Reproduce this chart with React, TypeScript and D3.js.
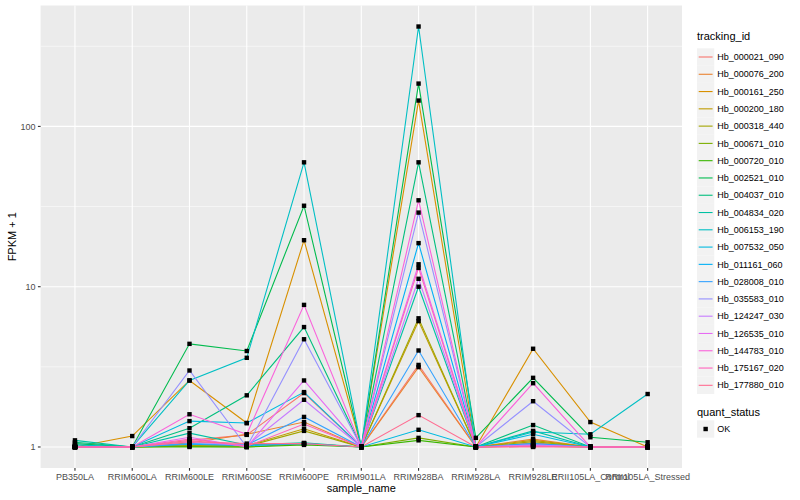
import * as d3 from "d3";

// sample names along the x axis
const samples = [
  "PB350LA",
  "RRIM600LA",
  "RRIM600LE",
  "RRIM600SE",
  "RRIM600PE",
  "RRIM901LA",
  "RRIM928BA",
  "RRIM928LA",
  "RRIM928LE",
  "RRII105LA_Control",
  "RRII105LA_Stressed",
];

// FPKM + 1 per gene, one value per sample
const hb000021_090 = [1, 1, 1.1, 1.19, 2.17, 1, 3.25, 1, 1.06, 1, 1];
const hb000076_200 = [1, 1, 1.06, 1.2, 1.43, 1, 3.15, 1, 1.12, 1, 1];
const hb000161_250 = [1, 1.17, 2.6, 1.41, 19.5, 1, 145, 1, 4.1, 1.43, 1];
const hb000200_180 = [1, 1, 1.03, 1.02, 1.3, 1, 6.1, 1, 1.1, 1, 1];
const hb000318_440 = [1, 1, 1.02, 1.01, 1.26, 1, 6.35, 1, 1.08, 1, 1];
const hb000671_010 = [1, 1, 1.01, 1, 1.05, 1, 1.14, 1, 1.02, 1, 1];
const hb000720_010 = [1, 1, 1, 1, 1.03, 1, 1.1, 1, 1.01, 1, 1];
const hb002521_010 = [1.05, 1, 4.4, 3.97, 32, 1, 185, 1.14, 2.7, 1.15, 1.07];
const hb004037_010 = [1.07, 1, 1.31, 2.1, 5.6, 1, 59.7, 1, 1.37, 1, 1];
const hb004834_020 = [1.1, 1, 1.22, 1.03, 1.06, 1, 10, 1, 1.26, 1, 1];
const hb006153_190 = [1.03, 1, 2.6, 3.6, 59.7, 1, 420, 1, 1.24, 1.2, 2.14];
const hb007532_050 = [1, 1, 1.45, 1.41, 2.2, 1, 1.28, 1, 1.2, 1, 1];
const hb011161_060 = [1, 1, 1.04, 1.02, 1.05, 1, 18.7, 1, 1.05, 1, 1];
const hb028008_010 = [1, 1, 1.05, 1.03, 1.54, 1, 4.0, 1, 1.04, 1, 1];
const hb035583_010 = [1, 1, 3.0, 1.0, 4.7, 1, 29, 1, 1.93, 1, 1];
const hb124247_030 = [1, 1, 1.08, 1.02, 1.97, 1, 11.2, 1, 1.03, 1, 1];
const hb126535_010 = [1, 1, 1.15, 1.0, 2.6, 1, 13.8, 1, 1.02, 1, 1];
const hb144783_010 = [1, 1, 1.6, 1.2, 7.7, 1, 34.6, 1, 2.5, 1, 1];
const hb175167_020 = [1, 1, 1.12, 1.01, 1.39, 1, 13.1, 1, 1.01, 1, 1];
const hb177880_010 = [1, 1, 1.08, 1.05, 1.05, 1, 1.58, 1, 1.0, 1, 1];

const trackingIds = [
  "Hb_000021_090", "Hb_000076_200", "Hb_000161_250", "Hb_000200_180",
  "Hb_000318_440", "Hb_000671_010", "Hb_000720_010", "Hb_002521_010",
  "Hb_004037_010", "Hb_004834_020", "Hb_006153_190", "Hb_007532_050",
  "Hb_011161_060", "Hb_028008_010", "Hb_035583_010", "Hb_124247_030",
  "Hb_126535_010", "Hb_144783_010", "Hb_175167_020", "Hb_177880_010",
];

const seriesValues = [
  hb000021_090, hb000076_200, hb000161_250, hb000200_180, hb000318_440,
  hb000671_010, hb000720_010, hb002521_010, hb004037_010, hb004834_020,
  hb006153_190, hb007532_050, hb011161_060, hb028008_010, hb035583_010,
  hb124247_030, hb126535_010, hb144783_010, hb175167_020, hb177880_010,
];

// ggplot hue palette, 20 levels
const palette = [
  "#F8766D", "#EA8331", "#D89000", "#C09B00", "#A3A500", "#7CAE00", "#39B600",
  "#00BB4E", "#00BF7D", "#00C1A3", "#00BFC4", "#00BAE0", "#00B0F6", "#35A2FF",
  "#9590FF", "#C77CFF", "#E76BF3", "#FA62DB", "#FF62BC", "#FF6C91",
];

const yTicks = [1, 10, 100];
const yMinor = [Math.sqrt(10), Math.sqrt(1000), Math.sqrt(100000)];

const W = 800;
const H = 500;
const font = "'Liberation Sans', Arial, Helvetica, sans-serif";

const App = () => {
  const panel = { left: 40.6, right: 682, top: 5.5, bottom: 468 };

  const series = trackingIds.map((id, i) => ({
    id,
    color: palette[i],
    values: seriesValues[i].map((v, j) => ({ sample: samples[j], value: v })),
  }));

  const step = (panel.right - panel.left) / (samples.length - 1 + 1.2);
  const xPos = d3
    .scalePoint<string>()
    .domain(samples)
    .range([panel.left + 0.6 * step, panel.right - 0.6 * step]);

  const allVals = seriesValues.flat();
  const lmin = Math.log10(d3.min(allVals) as number);
  const lmax = Math.log10(d3.max(allVals) as number);
  const pad = (lmax - lmin) * 0.05;
  const yScale = d3
    .scaleLog()
    .domain([Math.pow(10, lmin - pad), Math.pow(10, lmax + pad)])
    .range([panel.bottom, panel.top]);

  const line = d3
    .line<{ sample: string; value: number }>()
    .x((d) => xPos(d.sample) as number)
    .y((d) => yScale(d.value));

  const keySize = 17.28;
  const legendX = 697;
  const keyTop = 57 - keySize / 2;

  return (
    <svg width={W} height={H} style={{ display: "block", position: "absolute", left: 0, top: 0 }}>
      <rect x={0} y={0} width={W} height={H} fill="#FFFFFF" />
      <rect
        x={panel.left}
        y={panel.top}
        width={panel.right - panel.left}
        height={panel.bottom - panel.top}
        fill="#EBEBEB"
      />
      {yMinor.map((t) => (
        <line
          key={"m" + t}
          x1={panel.left}
          x2={panel.right}
          y1={yScale(t)}
          y2={yScale(t)}
          stroke="#FFFFFF"
          strokeWidth={0.55}
        />
      ))}
      {yTicks.map((t) => (
        <line
          key={"y" + t}
          x1={panel.left}
          x2={panel.right}
          y1={yScale(t)}
          y2={yScale(t)}
          stroke="#FFFFFF"
          strokeWidth={1.1}
        />
      ))}
      {samples.map((s) => (
        <line
          key={"x" + s}
          x1={xPos(s)}
          x2={xPos(s)}
          y1={panel.top}
          y2={panel.bottom}
          stroke="#FFFFFF"
          strokeWidth={1.1}
        />
      ))}

      {series.map((s) => (
        <path
          key={s.id}
          d={line(s.values) as string}
          fill="none"
          stroke={s.color}
          strokeWidth={1.1}
        />
      ))}
      {series.map((s) =>
        s.values.map((d) => (
          <rect
            key={s.id + d.sample}
            x={(xPos(d.sample) as number) - 2.2}
            y={yScale(d.value) - 2.2}
            width={4.4}
            height={4.4}
            fill="#000000"
          />
        ))
      )}

      {/* y axis */}
      {yTicks.map((t) => (
        <g key={"yt" + t}>
          <line
            x1={panel.left - 2.7}
            x2={panel.left}
            y1={yScale(t)}
            y2={yScale(t)}
            stroke="#333333"
            strokeWidth={1.1}
          />
          <text
            x={panel.left - 5}
            y={yScale(t)}
            dy="0.35em"
            textAnchor="end"
            fontFamily={font}
            fontSize={9}
            fill="#4D4D4D"
          >
            {t}
          </text>
        </g>
      ))}
      {/* x axis */}
      {samples.map((s) => (
        <g key={"xt" + s}>
          <line
            x1={xPos(s)}
            x2={xPos(s)}
            y1={panel.bottom}
            y2={panel.bottom + 2.7}
            stroke="#333333"
            strokeWidth={1.1}
          />
          <text
            x={xPos(s)}
            y={panel.bottom + 11.5}
            textAnchor="middle"
            fontFamily={font}
            fontSize={9}
            fill="#4D4D4D"
          >
            {s}
          </text>
        </g>
      ))}
      <text
        x={(panel.left + panel.right) / 2}
        y={492}
        textAnchor="middle"
        fontFamily={font}
        fontSize={11}
        fill="#000000"
      >
        sample_name
      </text>
      <text
        transform={`translate(16,${(panel.top + panel.bottom) / 2}) rotate(-90)`}
        textAnchor="middle"
        fontFamily={font}
        fontSize={11}
        fill="#000000"
      >
        FPKM + 1
      </text>

      {/* legend: tracking_id */}
      <text x={legendX} y={keyTop - 8} fontFamily={font} fontSize={11} fill="#000000">
        tracking_id
      </text>
      {series.map((s, i) => {
        const y0 = keyTop + i * keySize;
        return (
          <g key={"lg" + s.id}>
            <rect x={legendX} y={y0} width={keySize} height={keySize} fill="#F2F2F2" />
            <line
              x1={legendX + 1.7}
              x2={legendX + keySize - 1.7}
              y1={y0 + keySize / 2}
              y2={y0 + keySize / 2}
              stroke={s.color}
              strokeWidth={1.1}
            />
            <text
              x={legendX + keySize + 3}
              y={y0 + keySize / 2}
              dy="0.35em"
              fontFamily={font}
              fontSize={9}
              fill="#000000"
            >
              {s.id}
            </text>
          </g>
        );
      })}

      {/* legend: quant_status */}
      <text x={legendX} y={416} fontFamily={font} fontSize={11} fill="#000000">
        quant_status
      </text>
      <rect x={legendX} y={429 - keySize / 2} width={keySize} height={keySize} fill="#F2F2F2" />
      <rect x={legendX + keySize / 2 - 2.2} y={429 - 2.2} width={4.4} height={4.4} fill="#000000" />
      <text
        x={legendX + keySize + 3}
        y={429}
        dy="0.35em"
        fontFamily={font}
        fontSize={9}
        fill="#000000"
      >
        OK
      </text>
    </svg>
  );
};

export default App;
